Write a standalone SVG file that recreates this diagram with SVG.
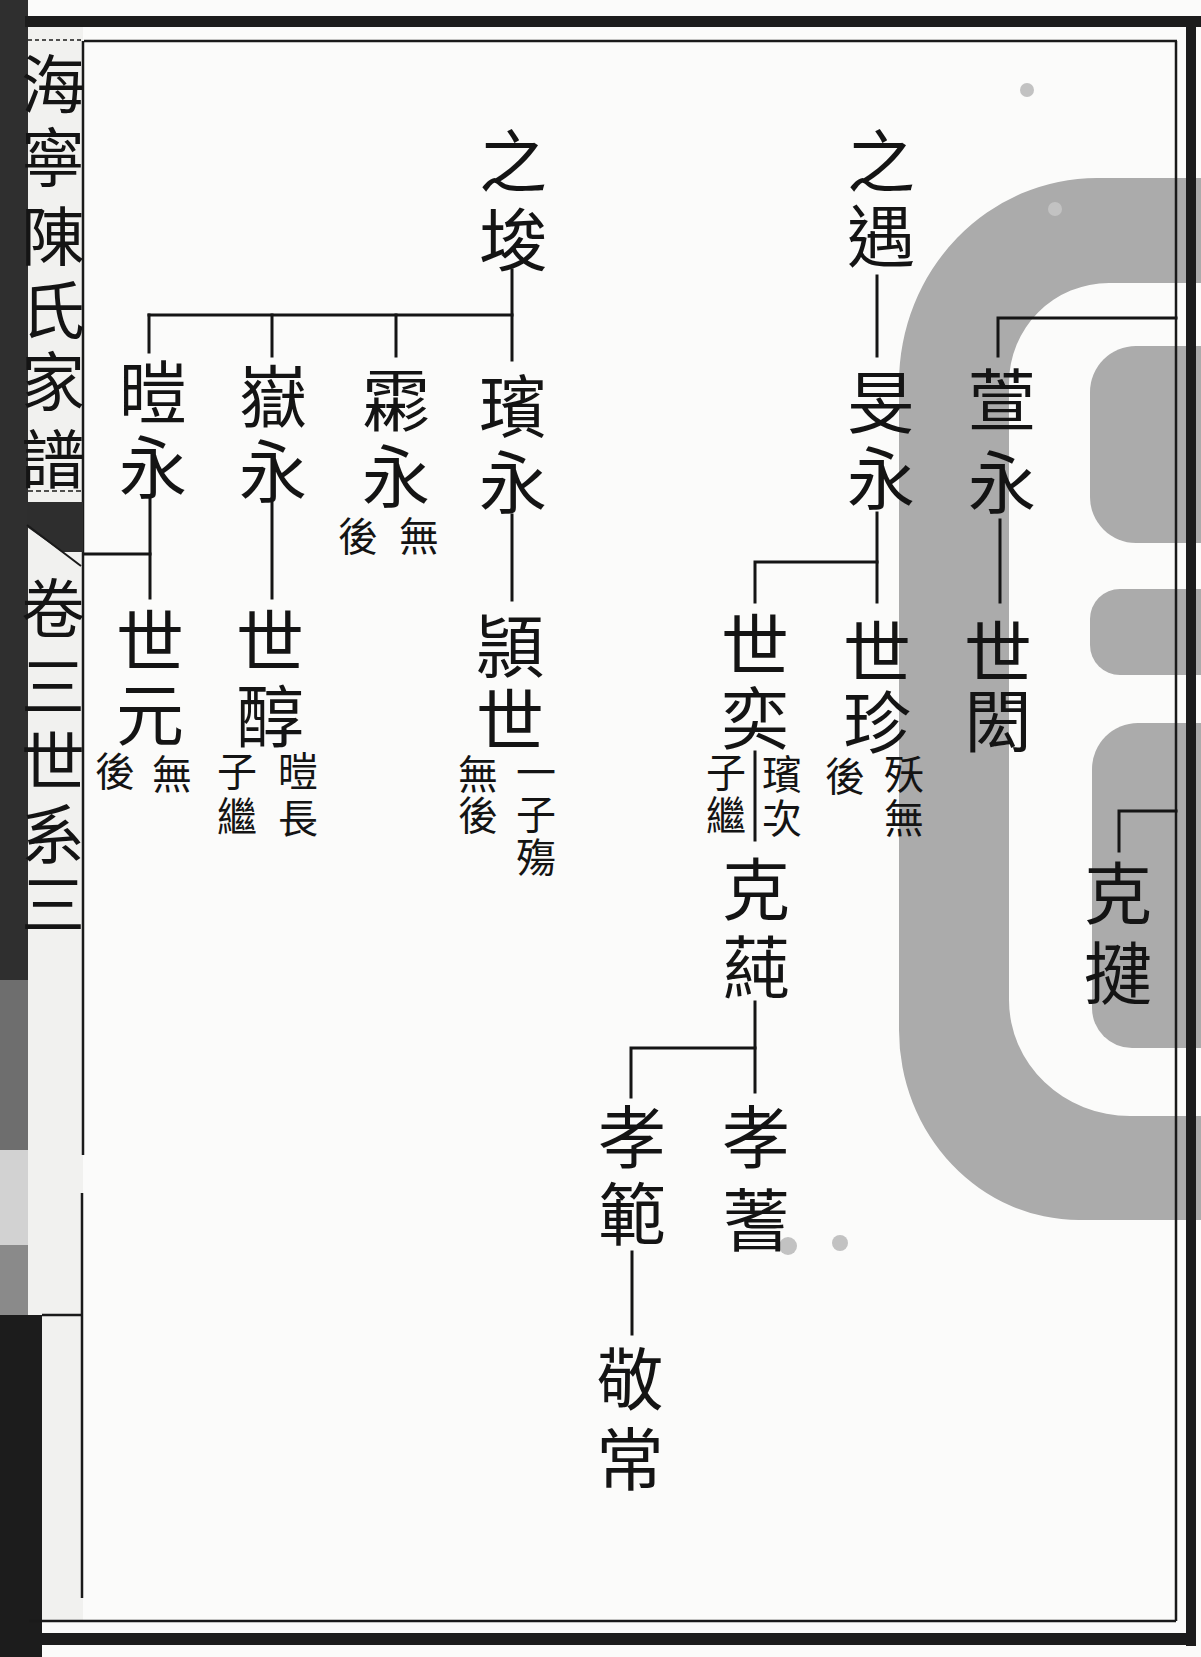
<svg xmlns="http://www.w3.org/2000/svg" width="1201" height="1657" viewBox="0 0 1201 1657">
<defs>
<style>
.n{font-family:"Noto Sans CJK TC","Noto Sans CJK SC","Noto Sans CJK JP",sans-serif;font-size:68px;fill:#141414;text-anchor:middle;dominant-baseline:central}
.s{font-size:40px}
.t{font-size:64px}
.c{stroke:#151515;stroke-width:3;fill:none;stroke-linecap:square}
.f{stroke:#1a1a1a;fill:none}
</style>
</defs>
<rect width="1201" height="1657" fill="#fbfbfa"/>
<g id="watermark" fill="#ababab">
<path fill-rule="evenodd" d="M1201,178 L1097,178 A198,205 0 0 0 899,383 L899,1030 A180,190 0 0 0 1079,1220 L1201,1220 Z M1201,283 L1109,283 A100,100 0 0 0 1009,383 L1009,1000 A121,116 0 0 0 1130,1116 L1201,1116 Z"/>
<path d="M1201,346 L1136,346 A46,46 0 0 0 1090,392 L1090,497 A46,46 0 0 0 1136,543 L1201,543 Z"/>
<path d="M1201,589 L1120,589 A30,30 0 0 0 1090,619 L1090,645 A30,30 0 0 0 1120,675 L1201,675 Z"/>
<path d="M1201,723 L1138,723 A46,46 0 0 0 1092,769 L1092,1008 A40,40 0 0 0 1132,1048 L1201,1048 Z"/>
</g>
<g id="seals" fill="#c2c2c2">
<circle cx="1027" cy="90" r="7"/>
<circle cx="1055" cy="209" r="7"/>
<circle cx="788" cy="1246" r="9"/>
<circle cx="840" cy="1243" r="8"/>
</g>
<g id="frame">
<rect x="28" y="27" width="55" height="1594" fill="#f1f1ef"/>
<rect x="0" y="0" width="28" height="980" fill="#2f2f2f"/>
<rect x="0" y="980" width="28" height="170" fill="#6e6e6e"/>
<rect x="0" y="1150" width="28" height="95" fill="#d2d2d2"/>
<rect x="0" y="1245" width="28" height="70" fill="#8a8a8a"/>
<rect x="0" y="1315" width="42" height="342" fill="#1c1c1c"/>
<rect x="25" y="16" width="1176" height="11" fill="#1c1c1c"/>
<line class="f" x1="84" y1="41" x2="1177" y2="41" stroke-width="2.5"/>
<line class="f" x1="28" y1="40" x2="83" y2="40" stroke-width="1.5" stroke-dasharray="4 3"/>
<line class="f" x1="1176" y1="41" x2="1176" y2="1621" stroke-width="2.5"/>
<rect x="1186" y="16" width="10" height="1630" fill="#1c1c1c"/>
<line class="f" x1="29" y1="1621" x2="1176" y2="1621" stroke-width="2.5"/>
<rect x="29" y="1633" width="1167" height="12" fill="#1c1c1c"/>
<line class="f" x1="83" y1="41" x2="83" y2="1155" stroke-width="2.5"/>
<line class="f" x1="82" y1="1193" x2="82" y2="1598" stroke-width="2.5"/>
<line class="f" x1="42" y1="1315" x2="82" y2="1315" stroke-width="2.5"/>
<line class="f" x1="28" y1="491" x2="83" y2="491" stroke-width="1.5" stroke-dasharray="5 3"/>
<polygon points="27,502 83,502 83,552 62,552 27,527" fill="#2e2e2e"/>
<line class="f" x1="27" y1="525" x2="81" y2="566" stroke-width="2"/>
</g>
<g id="title">
<text class="n t" x="53" y="80">海</text>
<text class="n t" x="53" y="153">寧</text>
<text class="n t" x="53" y="232">陳</text>
<text class="n t" x="53" y="306">氏</text>
<text class="n t" x="53" y="377">家</text>
<text class="n t" x="53" y="455">譜</text>
<text class="n t" x="53" y="604">卷</text>
<text class="n t" x="53" y="682">三</text>
<text class="n t" x="53" y="757">世</text>
<text class="n t" x="53" y="830">系</text>
<text class="n t" x="53" y="900">三</text>
</g>
<g id="connectors">
<path class="c" d="M512,270 V360"/>
<path class="c" d="M149,315 H512"/>
<path class="c" d="M149,315 V352 M272,315 V356 M396,315 V356"/>
<path class="c" d="M512,515 V600"/>
<path class="c" d="M150,497 V598"/>
<path class="c" d="M85,554 H150"/>
<path class="c" d="M272,500 V598"/>
<path class="c" d="M877,276 V356"/>
<path class="c" d="M877,513 V602"/>
<path class="c" d="M755,562 H877 M755,562 V602"/>
<path class="c" d="M755,752 V840"/>
<path class="c" d="M755,1002 V1092"/>
<path class="c" d="M631,1048 H755 M631,1048 V1097"/>
<path class="c" d="M632,1252 V1334"/>
<path class="c" d="M998,318 H1176 M998,318 V356"/>
<path class="c" d="M1000,520 V602"/>
<path class="c" d="M1119,811 H1176 M1119,811 V851"/>
</g>
<g id="n-zhijun"><text class="n" x="513" y="157">之</text><text class="n" x="513" y="236">埈</text></g>
<g id="n-zhiyu"><text class="n" x="881" y="157">之</text><text class="n" x="881" y="232">遇</text></g>
<g id="n-binyong"><text class="n" x="513" y="402">璸</text><text class="n" x="513" y="478">永</text></g>
<g id="n-linyong"><text class="n" x="396" y="396">霦</text><text class="n" x="396" y="472">永</text>
<text class="n s" x="419" y="534">無</text><text class="n s" x="358" y="534">後</text></g>
<g id="n-yueyong"><text class="n" x="273" y="392">嶽</text><text class="n" x="273" y="467">永</text></g>
<g id="n-kaiyong"><text class="n" x="153" y="388">暟</text><text class="n" x="153" y="463">永</text></g>
<g id="n-minyong"><text class="n" x="881" y="398">旻</text><text class="n" x="881" y="474">永</text></g>
<g id="n-xuanyong"><text class="n" x="1002" y="396">萱</text><text class="n" x="1002" y="478">永</text></g>
<g id="n-shiyuan"><text class="n" x="150" y="637">世</text><text class="n" x="150" y="710">元</text>
<text class="n s" x="172" y="772">無</text><text class="n s" x="115" y="769">後</text></g>
<g id="n-shichun"><text class="n" x="270" y="637">世</text><text class="n" x="270" y="712">醇</text>
<text class="n s" x="298" y="769">暟</text><text class="n s" x="298" y="816">長</text>
<text class="n s" x="237" y="769">子</text><text class="n s" x="237" y="814">繼</text></g>
<g id="n-yingshi"><text class="n" x="510" y="642">頴</text><text class="n" x="510" y="716">世</text>
<text class="n s" x="536" y="770">一</text><text class="n s" x="536" y="812">子</text><text class="n s" x="536" y="855">殤</text>
<text class="n s" x="478" y="772">無</text><text class="n s" x="478" y="813">後</text></g>
<g id="n-shiyi"><text class="n" x="755" y="641">世</text><text class="n" x="755" y="714">奕</text>
<text class="n s" x="782" y="772">璸</text><text class="n s" x="782" y="816">次</text>
<text class="n s" x="726" y="770">子</text><text class="n s" x="726" y="813">繼</text></g>
<g id="n-shizhen"><text class="n" x="877" y="648">世</text><text class="n" x="877" y="718">珍</text>
<text class="n s" x="904" y="772">殀</text><text class="n s" x="904" y="816">無</text>
<text class="n s" x="845" y="774">後</text></g>
<g id="n-shihong"><text class="n" x="998" y="648">世</text><text class="n" x="998" y="717">閎</text></g>
<g id="n-kechun"><text class="n" x="756" y="885">克</text><text class="n" x="756" y="963">蒓</text></g>
<g id="n-kejian"><text class="n" x="1118" y="889">克</text><text class="n" x="1118" y="969">揵</text></g>
<g id="n-xiaofan"><text class="n" x="632" y="1133">孝</text><text class="n" x="632" y="1210">範</text></g>
<g id="n-xiaoshi"><text class="n" x="756" y="1133">孝</text><text class="n" x="756" y="1216">蓍</text></g>
<g id="n-jingchang"><text class="n" x="630" y="1375">敬</text><text class="n" x="630" y="1455">常</text></g>
</svg>
